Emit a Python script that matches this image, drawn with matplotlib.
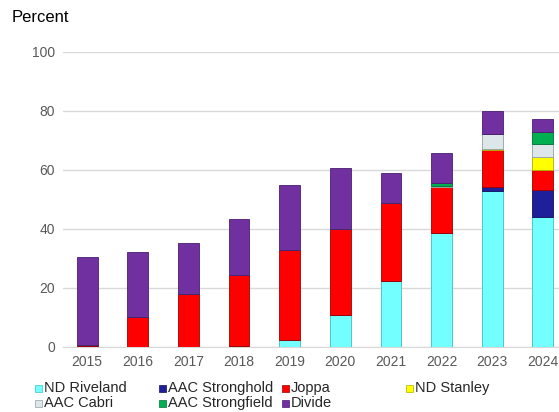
import numpy as np
import matplotlib.pyplot as plt
from matplotlib.patches import Rectangle

plt.rcParams['font.family'] = ['Liberation Sans', 'DejaVu Sans']

# Данные
years = ['2015', '2016', '2017', '2018', '2019', '2020', '2021', '2022', '2023', '2024']
riveland = [0.2, 0.0, 0.0, 0.3, 2.4, 10.9, 22.5, 38.7, 52.7, 44.0]
stronghold = [0, 0, 0, 0, 0, 0, 0, 0, 1.4, 9.1]
joppa = [0.5, 10.3, 18.1, 24.2, 30.5, 29.2, 26.4, 15.4, 12.7, 6.7]
stanley = [0, 0, 0, 0, 0, 0, 0, 0, 0.3, 4.7]
cabri = [0, 0, 0, 0, 0, 0, 0, 0.6, 5.0, 4.4]
strongfield = [0, 0, 0, 0, 0, 0, 0, 0.7, 0, 4.1]
divide = [29.9, 21.8, 17.0, 18.8, 22.0, 20.5, 10.0, 10.3, 8.0, 4.2]

series = [
    ('ND Riveland', riveland, '#73ffff', '#3fbfbf'),
    ('AAC Stronghold', stronghold, '#1f1f99', '#10105a'),
    ('Joppa', joppa, '#ff0000', '#a00000'),
    ('ND Stanley', stanley, '#ffff00', '#b0b000'),
    ('AAC Cabri', cabri, '#dde7ea', '#8fa0a6'),
    ('AAC Strongfield', strongfield, '#00b050', '#00703a'),
    ('Divide', divide, '#7030a0', '#4a1c70'),
]

fig = plt.figure(figsize=(5.59, 4.12), dpi=100)
ax = fig.add_axes([0.113, 0.158, 0.887, 0.716])

x = np.arange(len(years))
bottom = np.zeros(len(years))
for name, vals, col, edge in series:
    vals = np.array(vals, dtype=float)
    ax.bar(x, vals, width=0.41, bottom=bottom, color=col,
           edgecolor=edge, linewidth=0.6, zorder=3)
    bottom += vals

ax.set_ylim(0, 100)
ax.set_xlim(-0.474, 9.32)
ax.set_yticks([0, 20, 40, 60, 80, 100])
ax.set_xticks(x)
ax.set_xticklabels(years)
ax.tick_params(axis='both', length=0, labelsize=10, colors='#595959', pad=6)
ax.grid(axis='y', color='#d9d9d9', linewidth=1, zorder=0)
for s in ['top', 'right', 'left']:
    ax.spines[s].set_visible(False)
ax.spines['bottom'].set_color('#d9d9d9')

fig.text(12 / 559, 1 - 18 / 412, 'Percent', fontsize=12, va='center', ha='left')

# Легенда вручную (сетка 4 колонки)
col_x = [35, 159, 282, 406]
row_y = [388, 403]
for i, (name, vals, col, edge) in enumerate(series):
    r, c = divmod(i, 4)
    px, py = col_x[c], row_y[r]
    fig.patches.append(Rectangle((px / 559, 1 - (py + 4) / 412), 7 / 559, 7 / 412,
                                 transform=fig.transFigure, facecolor=col,
                                 edgecolor=edge, linewidth=0.5))
    fig.text((px + 9) / 559, 1 - py / 412, name, fontsize=10.5,
             va='center', ha='left', color='#262626')

fig.savefig('out.png', dpi=100)
